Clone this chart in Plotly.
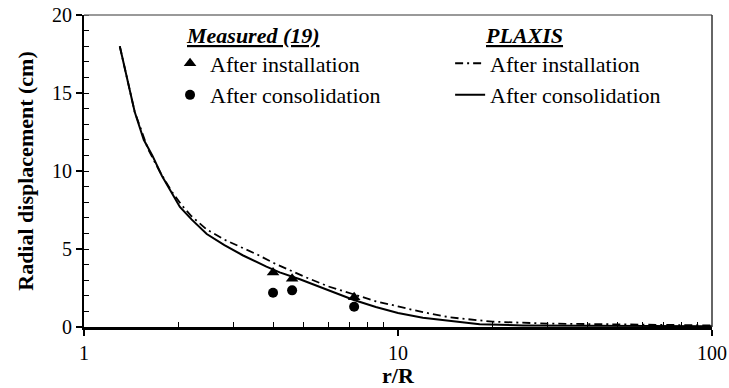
import plotly.graph_objects as go

# Measured radial displacement (ref. 19)
meas_r = [4.0, 4.6, 7.25]
meas_install = [3.5, 3.1, 1.9]
meas_consol = [2.2, 2.35, 1.3]

# PLAXIS: after installation
px_inst_r = [1.3, 1.45, 1.6, 1.75, 1.9, 2.05, 2.2, 2.46, 2.8, 3.14, 3.6, 4.0,
             5.0, 6.0, 7.2, 8.5, 10, 12, 14.6, 20, 30, 50, 100]
px_inst_u = [18.0, 13.8, 11.4, 9.9, 8.7, 7.8, 7.1, 6.25, 5.6, 5.15, 4.6, 4.12,
             3.25, 2.6, 2.08, 1.65, 1.32, 0.95, 0.62, 0.34, 0.22, 0.15, 0.1]

# PLAXIS: after consolidation
px_cons_r = [1.3, 1.45, 1.55, 1.65, 1.77, 1.88, 2.02, 2.2, 2.46, 2.8, 3.2, 3.81,
             4.2, 4.87, 6.0, 7.2, 8.5, 10, 12, 14.6, 18.2, 25, 40, 100]
px_cons_u = [18.0, 13.8, 12.0, 11.0, 9.7, 8.8, 7.7, 6.9, 5.96, 5.25, 4.6, 3.87,
             3.5, 3.06, 2.35, 1.75, 1.28, 0.9, 0.6, 0.4, 0.17, 0.1, 0.07, 0.05]

x_ticks = [1, 10, 100]
x_minor = [2, 3, 4, 5, 6, 7, 8, 9, 20, 30, 40, 50, 60, 70, 80, 90]

FONT = "Liberation Serif"

fig = go.Figure()

fig.add_trace(go.Scatter(
    x=px_inst_r, y=px_inst_u, mode="lines", name="After installation",
    line=dict(color="black", width=1.8, dash="8px,4px,2px,4px"),
    legend="legend2"))
fig.add_trace(go.Scatter(
    x=px_cons_r, y=px_cons_u, mode="lines", name="After consolidation",
    line=dict(color="black", width=2), legend="legend2"))

fig.add_trace(go.Scatter(
    x=meas_r, y=meas_install, mode="markers", name="After installation",
    marker=dict(symbol="triangle-up", size=11, color="black"), legend="legend"))
fig.add_trace(go.Scatter(
    x=meas_r, y=meas_consol, mode="markers", name="After consolidation",
    marker=dict(symbol="circle", size=10, color="black"), legend="legend"))

legend_style = dict(font=dict(family=FONT, size=22, color="black"),
                    bgcolor="rgba(0,0,0,0)", borderwidth=0,
                    xanchor="left", yanchor="top")

fig.update_layout(
    width=729, height=388,
    margin=dict(l=84, r=17, t=15, b=61, autoexpand=False),
    paper_bgcolor="white", plot_bgcolor="white",
    font=dict(family=FONT, color="black"),
    showlegend=True,
    legend=dict(x=0.137, y=0.912, **legend_style),
    legend2=dict(x=0.583, y=0.912, **legend_style),
    xaxis=dict(
        type="log", range=[0, 2], automargin=True,
        tickvals=x_ticks, ticktext=[str(v) for v in x_ticks],
        ticks="outside", ticklen=6, tickwidth=1.5, tickcolor="black",
        minor=dict(tickvals=x_minor, ticks="inside", ticklen=5,
                   tickwidth=1.2, tickcolor="black"),
        showline=True, linecolor="black", linewidth=2.5,
        showgrid=False, zeroline=False,
        tickfont=dict(family=FONT, size=20),
        title=dict(text="<b>r/R</b>", font=dict(family=FONT, size=22), standoff=0),
    ),
    yaxis=dict(
        range=[0, 20], tickvals=[0, 5, 10, 15, 20], automargin=True,
        ticks="outside", ticklen=6, tickwidth=1.5, tickcolor="black",
        minor=dict(dtick=1, ticks="inside", ticklen=5,
                   tickwidth=1.2, tickcolor="black"),
        showline=True, linecolor="black", linewidth=2,
        showgrid=False, zeroline=False,
        tickfont=dict(family=FONT, size=20),
        title=dict(text="<b>Radial displacement (cm)</b>",
                   font=dict(family=FONT, size=22), standoff=12),
    ),
    shapes=[
        dict(type="line", xref="paper", yref="paper", x0=0, x1=1, y0=1, y1=1,
             line=dict(color="#777777", width=1.5)),
        dict(type="line", xref="paper", yref="paper", x0=1, x1=1, y0=0, y1=1,
             line=dict(color="#333333", width=1.5)),
    ],
    annotations=[
        dict(text="<b><i><u>Measured (19)</u></i></b>", xref="paper", yref="paper",
             x=(184 - 84) / 628, y=(327 - 36) / 312, xanchor="left", yanchor="middle",
             showarrow=False, font=dict(family=FONT, size=22)),
        dict(text="<b><i><u>PLAXIS</u></i></b>", xref="paper", yref="paper",
             x=(483 - 84) / 628, y=(327 - 36) / 312, xanchor="left", yanchor="middle",
             showarrow=False, font=dict(family=FONT, size=22)),
    ],
)

fig.write_html("out.html")
